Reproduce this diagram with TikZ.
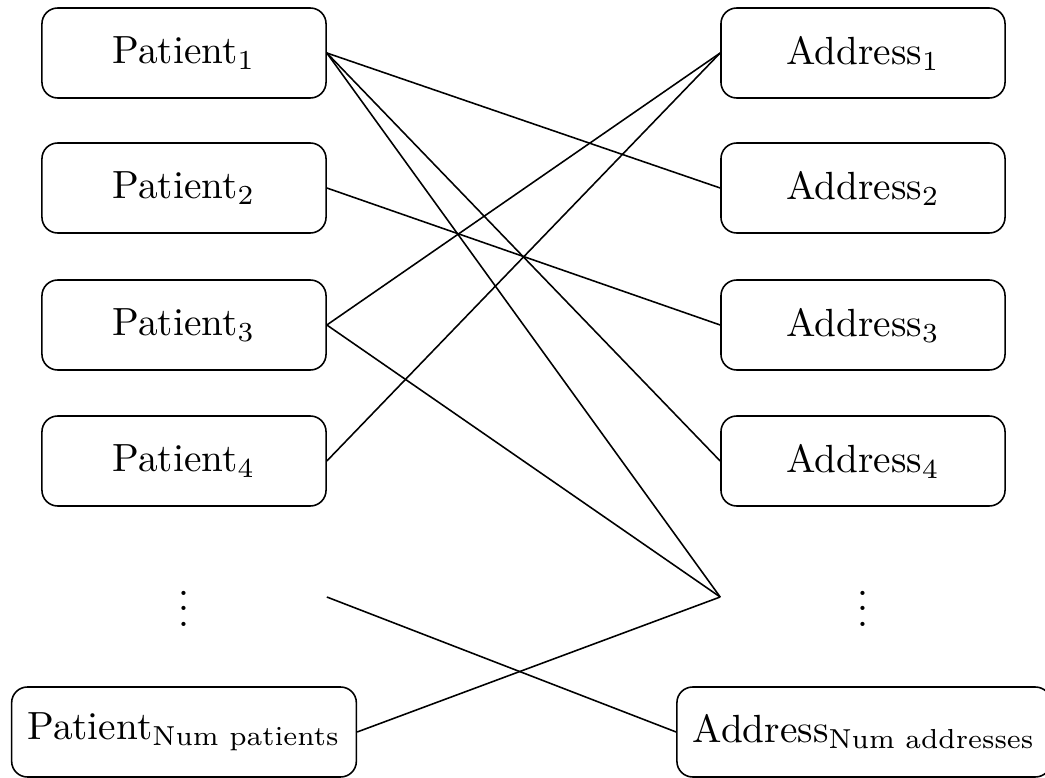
\documentclass[tikz,border=0pt]{standalone}
\usepackage{amsmath}
\begin{document}
\begin{tikzpicture}[x=0.2545pt,y=-0.2545pt,
  entity/.style={draw,rectangle,rounded corners=4pt,minimum width=72.3pt,minimum height=22.9pt,inner xsep=4pt,inner ysep=3pt},
  gap/.style={rectangle,minimum width=72.3pt,minimum height=22.9pt,inner sep=0pt}]
\useasboundingbox (0,0) rectangle (1045,778);
\node[entity] (p1) at (184,53) {Patient$_1$};
\node[entity] (p2) at (184,188) {Patient$_2$};
\node[entity] (p3) at (184,325) {Patient$_3$};
\node[entity] (p4) at (184,461) {Patient$_4$};
\node[gap] (pd) at (184,597) {$\vdots$};
\node[entity] (pn) at (184,732) {Patient$_{\text{Num patients}}$};
\node[entity] (a1) at (863,53) {Address$_1$};
\node[entity] (a2) at (863,188) {Address$_2$};
\node[entity] (a3) at (863,325) {Address$_3$};
\node[entity] (a4) at (863,461) {Address$_4$};
\node[gap] (ad) at (863,597) {$\vdots$};
\node[entity] (an) at (864,732) {Address$_{\text{Num addresses}}$};
\draw (p1.east) -- (a2.west);
\draw (p1.east) -- (a4.west);
\draw (p1.east) -- (ad.west);
\draw (p2.east) -- (a3.west);
\draw (p3.east) -- (a1.west);
\draw (p3.east) -- (ad.west);
\draw (p4.east) -- (a1.west);
\draw (pd.east) -- (an.west);
\draw (pn.east) -- (ad.west);
\end{tikzpicture}
\end{document}
